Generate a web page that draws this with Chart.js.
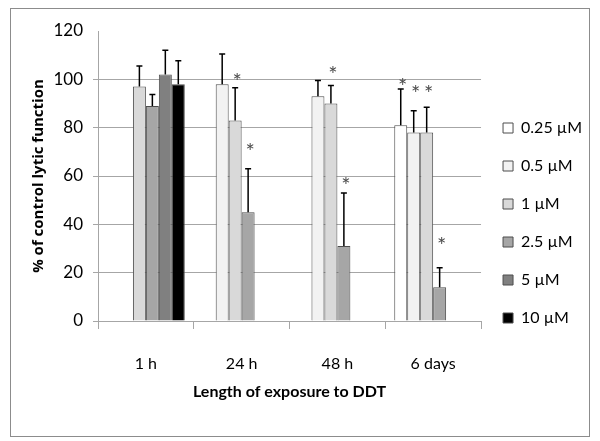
<!DOCTYPE html>
<html>
<head>
<meta charset="utf-8">
<script src="https://cdn.jsdelivr.net/npm/chart.js@4/dist/chart.umd.min.js"></script>
<style>
  body { margin: 0; background: #fff; }
  #wrap { width: 600px; height: 441px; }
</style>
</head>
<body>
<div id="wrap"><canvas id="lytic-chart" width="600" height="441"></canvas></div>
<script>
const ctx = document.getElementById('lytic-chart').getContext('2d');

// exposure times on x axis
const categories = ['1 h', '24 h', '48 h', '6 days'];
const doses = ['0.25 µM', '0.5 µM', '1 µM', '2.5 µM', '5 µM', '10 µM'];
const doseColors = ['#ffffff', '#f2f2f2', '#d9d9d9', '#a6a6a6', '#808080', '#000000'];

// mean % of control lytic function, per dose
const v025 = [null, null, null, 81];
const v05  = [null, 98, 93, 78];
const v1   = [97, 83, 90, 78];
const v25  = [89, 45, 31, 14];
const v5   = [102, null, null, null];
const v10  = [98, null, null, null];

// upper error (SD) per dose
const e025 = [null, null, null, 15];
const e05  = [null, 12.5, 6.5, 9];
const e1   = [8.5, 13.5, 7.5, 10.5];
const e25  = [4.7, 18, 22, 8];
const e5   = [10, null, null, null];
const e10  = [9.7, null, null, null];

// where the significance stars sit (in % units), null = no star
const s025 = [null, null, null, 99];
const s05  = [null, null, null, 96];
const s1   = [null, 101, 104, 96];
const s25  = [null, 72, 58, 33];
const s5   = [null, null, null, null];
const s10  = [null, null, null, null];

const values = [v025, v05, v1, v25, v5, v10];
const errors = [e025, e05, e1, e25, e5, e10];
const stars = [s025, s05, s1, s25, s5, s10];

const datasets = doses.map((d, i) => ({
    label: d,
    data: values[i],
    errUp: errors[i],
    stars: stars[i],
    backgroundColor: doseColors[i],
    borderColor: '#4d4d4d',
    borderWidth: 1,
    barPercentage: 1,
    categoryPercentage: 0.8125
}));

// error bars + asterisks
const errorBars = {
    id: 'errorBars',
    afterDatasetsDraw(chart) {
        const c = chart.ctx;
        const y = chart.scales.y;
        chart.data.datasets.forEach((ds, i) => {
            const meta = chart.getDatasetMeta(i);
            meta.data.forEach((bar, j) => {
                const v = ds.data[j];
                if (v == null) return;
                const err = ds.errUp[j];
                c.save();
                if (err != null) {
                    const top = y.getPixelForValue(v + err);
                    c.strokeStyle = '#000';
                    c.lineWidth = 1.5;
                    c.beginPath();
                    c.moveTo(bar.x, bar.y);
                    c.lineTo(bar.x, top);
                    c.moveTo(bar.x - 3, top);
                    c.lineTo(bar.x + 3, top);
                    c.stroke();
                }
                const s = ds.stars[j];
                if (s != null) {
                    c.fillStyle = '#4d4d4d';
                    c.font = '22px Lato';
                    c.textAlign = 'center';
                    c.textBaseline = 'middle';
                    c.fillText('*', bar.x + 2, y.getPixelForValue(s) + 5);
                }
                c.restore();
            });
        });
    }
};

const frame = {
    id: 'frame',
    afterDraw(chart) {
        const c = chart.ctx;
        c.save();
        c.strokeStyle = '#8c8c8c';
        c.lineWidth = 1;
        c.strokeRect(10.5, 8.5, 579, 428);
        c.restore();
    }
};

const lyticChart = new Chart(ctx, {
    type: 'bar',
    data: { labels: categories, datasets: datasets },
    options: {
        responsive: false,
        animation: false,
        layout: { padding: { left: 30, top: 31, right: 8, bottom: 26 } },
        scales: {
            y: {
                min: 0,
                max: 120,
                ticks: { stepSize: 20, color: '#000', padding: 10, font: { family: 'Lato', size: 17 } },
                grid: {
                    color: c => c.tick && c.tick.value === 120 ? 'rgba(0,0,0,0)' : '#a6a6a6',
                    tickLength: 5
                },
                border: { color: '#a6a6a6' },
                title: {
                    display: true,
                    text: '% of control lytic function',
                    color: '#000',
                    font: { family: 'Open Sans', size: 15, weight: 'bold' },
                    padding: { top: 0, bottom: 6 }
                },
                afterFit: s => { s.width = 68; }
            },
            x: {
                ticks: { color: '#000', padding: 25, font: { family: 'Lato', size: 16 } },
                grid: { offset: true, drawOnChartArea: false, tickLength: 8, color: '#a6a6a6' },
                border: { color: '#a6a6a6' },
                title: {
                    display: true,
                    text: 'Length of exposure to DDT',
                    color: '#000',
                    font: { family: 'Lato', size: 16, weight: 'bold' },
                    padding: { top: 0, bottom: 14 }
                },
                afterFit: s => { s.height = 94; }
            }
        },
        plugins: {
            legend: {
                position: 'right',
                labels: {
                    boxWidth: 10,
                    boxHeight: 10,
                    padding: 22,
                    color: '#000',
                    font: { family: 'Lato', size: 16 }
                }
            },
            tooltip: { enabled: false }
        }
    },
    plugins: [errorBars, frame]
});
</script>
</body>
</html>
